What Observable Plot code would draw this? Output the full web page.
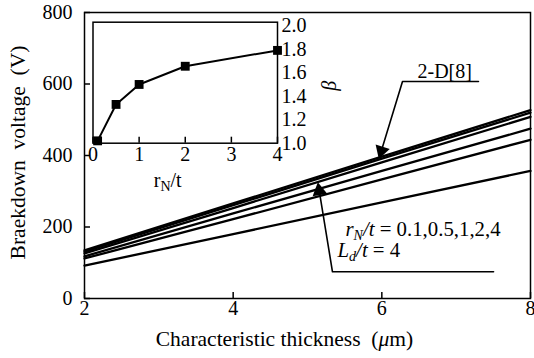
<!DOCTYPE html>
<html><head><meta charset="utf-8">
<script src="https://cdn.jsdelivr.net/npm/d3@7"></script>
<script src="https://cdn.jsdelivr.net/npm/@observablehq/plot@0.6"></script>
<style>
body{margin:0;background:#fff;}
#wrap{position:relative;width:534px;height:358px;}
#wrap svg{position:absolute;left:0;top:0;white-space:pre;}
</style></head><body><div id="wrap"></div>
<script>
// ---- data ----
const thickness = [2, 4, 6, 8];                 // characteristic thickness (µm)
const seriesNames = ["2-D[8]", "rN/t=4", "rN/t=2", "rN/t=1", "rN/t=0.5", "rN/t=0.1"];
const v2D   = [135, 266, 397, 527];
const vR4   = [131, 261, 391, 520];
const vR2   = [126, 253, 381, 508];
const vR1   = [118, 238, 357, 475];
const vR05  = [112, 222, 333, 444];
const vR01  = [92, 180, 269, 357];
const xTicks = [2, 4, 6, 8];
const yTicks = [0, 200, 400, 600, 800];

// inset: beta vs rN/t
const rN   = [0.1, 0.5, 1, 2, 4];
const beta = [1.02, 1.33, 1.50, 1.655, 1.79];
const insetXTicks = [0, 1, 2, 3, 4];
const insetYTicks = [1.0, 1.2, 1.4, 1.6, 1.8, 2.0];

const seriesValues = [v2D, vR4, vR2, vR1, vR05, vR01];
const rows = seriesNames.flatMap((s, i) => thickness.map((x, j) => ({s, x, v: seriesValues[i][j]})));
const insetRows = rN.map((r, i) => ({r, b: beta[i]}));

const font = "'Liberation Serif', 'Times New Roman', Tinos, 'DejaVu Serif', serif";

const main = Plot.plot({
  width: 534, height: 358,
  marginLeft: 84, marginRight: 4, marginTop: 12, marginBottom: 60,
  style: `font-family: ${font}; font-size: 20px; background: white; color: black; overflow: visible; white-space: pre;`,
  x: {domain: [2, 8]},
  y: {domain: [0, 800]},
  marks: [
    Plot.axisX(xTicks, {tickSize: -6, tickPadding: 8, tickFormat: d => d, label: null, strokeWidth: 1.5}),
    Plot.axisY(yTicks, {tickSize: -6, tickPadding: 18, tickFormat: d => d, label: null, strokeWidth: 1.5}),
    Plot.line(rows, {x: "x", y: "v", z: "s", stroke: "black", strokeWidth: 2.3}),
    // annotation: 2-D[8]
    Plot.line([{x: 7.30, v: 606.8}, {x: 6.278, v: 606.8}, {x: 5.994, v: 413.3}], {x: "x", y: "v", stroke: "black", strokeWidth: 1.6}),
    Plot.dot([{x: 5.994, v: 413.3, a: 197.7}], {x: "x", y: "v", symbol: "triangle", r: 5.5, rotate: "a", fill: "black", stroke: "none"}),
    Plot.text(["2-D[8]"], {text: d => d, x: 6.48, y: 618, textAnchor: "start", lineAnchor: "bottom"}),
    // annotation: rN/t
    Plot.line([{x: 7.503, v: 74.7}, {x: 5.336, v: 74.7}, {x: 5.158, v: 301.3}], {x: "x", y: "v", stroke: "black", strokeWidth: 1.6}),
    Plot.dot([{x: 5.158, v: 301.3, a: 350.6}], {x: "x", y: "v", symbol: "triangle", r: 5.5, rotate: "a", fill: "black", stroke: "none"}),
    Plot.text(["rN/t = 0.1,0.5,1,2,4"], {text: d => d, x: 5.511, y: 175.6, textAnchor: "start", lineAnchor: "bottom", fontSize: 20.8}),
    Plot.text(["Ld/t = 4"], {text: d => d, x: 5.404, y: 115, textAnchor: "start", lineAnchor: "bottom", fontSize: 20.8}),
    // axis titles
    Plot.text(["Braekdown  voltage  (V)"], {text: d => d, frameAnchor: "left", textAnchor: "middle", lineAnchor: "middle", dx: -66, dy: -3, rotate: -90, fontSize: 21.5}),
    Plot.text(["Characteristic thickness  (μm)"], {text: d => d, x: 4.69, frameAnchor: "bottom", textAnchor: "middle", lineAnchor: "middle", dy: 41, fontSize: 21.5}),
    Plot.frame({stroke: "black", strokeWidth: 1.5})
  ]
});

const inset = Plot.plot({
  width: 534, height: 200,
  marginLeft: 92.5, marginRight: 257, marginTop: 21.7, marginBottom: 57.3,
  style: `font-family: ${font}; font-size: 20px; background: transparent; color: black; overflow: visible; white-space: pre;`,
  x: {domain: [0, 4]},
  y: {domain: [1.0, 2.03]},
  marks: [
    Plot.axisX(insetXTicks, {tickSize: -6, tickPadding: 10, tickFormat: d => d, label: null, strokeWidth: 1.5}),
    Plot.axisY(insetYTicks, {anchor: "right", tickSize: 0, tickPadding: 4, tickFormat: d3.format(".1f"), label: null}),
    Plot.line(insetRows, {x: "r", y: "b", stroke: "black", strokeWidth: 2}),
    Plot.dot(insetRows, {x: "r", y: "b", symbol: "square", r: 5, fill: "black", stroke: "none"}),
    Plot.text(["rN/t "], {text: d => d, x: 1.62, frameAnchor: "bottom", textAnchor: "middle", lineAnchor: "middle", dy: 37}),
    Plot.text(["β"], {text: d => d, frameAnchor: "right", textAnchor: "middle", lineAnchor: "middle", dx: 52, dy: 3, rotate: -90, fontStyle: "italic"}),
    Plot.frame({stroke: "black", strokeWidth: 1.5})
  ]
});

const rich = {
  "rN/t = 0.1,0.5,1,2,4": [["r", "i"], ["N", "isub"], ["/t", "i"], [" = 0.1,0.5,1,2,4", ""]],
  "Ld/t = 4": [["L", "i"], ["d", "isub"], ["/t", "i"], [" = 4", ""]],
  "rN/t ": [["r", ""], ["N", "sub"], ["/t", ""]],
  "Characteristic thickness  (μm)": [["Characteristic thickness  (", ""], ["μ", "i"], ["m)", ""]]
};
function applyRich(svg) {
  svg.querySelectorAll("text").forEach(t => {
    const parts = rich[t.textContent];
    if (!parts) return;
    while (t.firstChild) t.removeChild(t.firstChild);
    let shifted = false;
    for (const [s, st] of parts) {
      const ts = document.createElementNS("http://www.w3.org/2000/svg", "tspan");
      ts.textContent = s;
      if (st.includes("i")) ts.setAttribute("font-style", "italic");
      if (st.includes("sub")) { ts.setAttribute("font-size", "14"); ts.setAttribute("dy", "4"); shifted = true; }
      else if (shifted) { ts.setAttribute("dy", "-4"); shifted = false; }
      t.appendChild(ts);
    }
  });
}
applyRich(main);
applyRich(inset);
const wrap = document.getElementById("wrap");
wrap.appendChild(main);
wrap.appendChild(inset);
</script>
</body></html>
